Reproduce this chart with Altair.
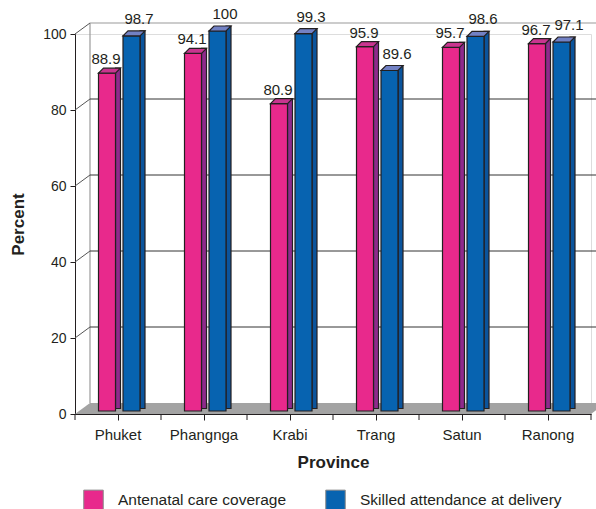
import altair as alt
import pandas as pd

# ---- data -------------------------------------------------------------
provinces = ["Phuket", "Phangnga", "Krabi", "Trang", "Satun", "Ranong"]
antenatal = [88.9, 94.1, 80.9, 95.9, 95.7, 96.7]
skilled = [98.7, 100, 99.3, 89.6, 98.6, 97.1]
series = ["Antenatal care coverage", "Skilled attendance at delivery"]
y_ticks = [0, 20, 40, 60, 80, 100]

df = pd.DataFrame({
    "province": provinces * 2,
    "series": [series[0]] * len(provinces) + [series[1]] * len(provinces),
    "value": antenatal + skilled,
})
grid_df = pd.DataFrame({"tick": y_ticks[1:-1]})
top_df = pd.DataFrame({"tick": [y_ticks[-1]]})
axis_df = pd.DataFrame({"tick": y_ticks[1:]})
prov_df = pd.DataFrame({"province": provinces})
one = pd.DataFrame({"k": [0]})

# ---- styling ----------------------------------------------------------
W, H = 516, 380          # plot area
DX, DY = 15, -11         # depth of the 3-D box
FY = -3                  # bars stand a little behind the front edge
FW, SW, TD = 17, 5, 5    # front width, side width, top depth
INK = "#231f20"
FONT = "Liberation Sans"

styles = {
    series[0]: dict(front="#e8298c", side="#8e2a8c", top="#c9358f",
                    off=-11, label_off=-12, label_dy=-14),
    series[1]: dict(front="#0763b0", side="#0b549c", top="#7281c4",
                    off=13.5, label_off=21, label_dy=-17),
}

x_scale = alt.Scale(domain=provinces, paddingInner=0, paddingOuter=0)
y_scale = alt.Scale(domain=[0, 100], nice=False, zero=True)

x_axis = alt.Axis(title="Province", labelFontSize=15, labelFont=FONT, labelColor=INK,
                  labelAngle=0, labelPadding=7, tickSize=6, tickColor=INK,
                  domainColor=INK, titleFont=FONT, titleFontSize=17, titleFontWeight="bold",
                  titleColor=INK, titleX=W / 2, titleY=48, titleBaseline="middle", grid=False)
y_axis = alt.Axis(title="Percent", values=y_ticks, labelFontSize=14, labelFont=FONT,
                  labelColor=INK, labelPadding=4, tickSize=5, tickColor=INK,
                  domainColor=INK, titleFont=FONT, titleFontSize=17, titleFontWeight="bold",
                  titleColor=INK, titleAngle=270, titleX=-57, titleY=H / 2,
                  titleAlign="center", titleBaseline="middle", grid=False)

X = alt.X("province:N", sort=provinces, scale=x_scale, axis=x_axis)
Y = alt.Y("value:Q", scale=y_scale, axis=y_axis)
YT = alt.Y("tick:Q", scale=y_scale, axis=y_axis)

layers = []

# floor of the box
layers.append(
    alt.Chart(one).mark_point(
        shape=f"M0,0 L{W},0 L{W + DX},{DY} L{DX},{DY} Z", size=4, filled=True,
        fill="#a3a3a3", opacity=1, strokeWidth=0,
    ).encode(x=alt.value(0), y=alt.value(H))
)

# back wall: left edge
layers.append(
    alt.Chart(one).mark_rule(color="#9a9a9a", strokeWidth=1.2).encode(
        x=alt.value(DX), y=alt.value(DY), y2=alt.value(H + DY))
)

# back wall gridlines
layers.append(
    alt.Chart(grid_df).mark_rule(color="#333333", strokeWidth=1, yOffset=DY).encode(
        y=YT, x=alt.value(DX), x2=alt.value(W + 10))
)
layers.append(
    alt.Chart(top_df).mark_rule(color="#9a9a9a", strokeWidth=1.2, yOffset=DY).encode(
        y=YT, x=alt.value(DX), x2=alt.value(W + 10))
)

# side-wall connectors from the front axis to the back wall
layers.append(
    alt.Chart(axis_df).mark_rule(color="#555555", strokeWidth=1, y2Offset=DY).encode(
        y=YT, y2=alt.Y2("tick:Q"), x=alt.value(0), x2=alt.value(DX))
)

# category boundary ticks on the x axis
layers.append(
    alt.Chart(prov_df).mark_rule(color=INK, strokeWidth=1).encode(
        x=alt.X("province:N", sort=provinces, scale=x_scale, axis=x_axis, bandPosition=0),
        y=alt.value(H), y2=alt.value(H + 6))
)
layers.append(
    alt.Chart(one).mark_rule(color=INK, strokeWidth=1).encode(
        x=alt.value(W), y=alt.value(H), y2=alt.value(H + 6))
)

color = alt.Color(
    "series:N",
    scale=alt.Scale(domain=series, range=[styles[s]["front"] for s in series]),
    legend=alt.Legend(
        title=None, orient="none", legendX=8, legendY=455, direction="horizontal",
        symbolType="square", symbolSize=380, symbolStrokeColor="#8a8a8a",
        symbolStrokeWidth=1, symbolOpacity=1, labelFontSize=15.5, labelFont=FONT,
        labelColor=INK, labelOffset=14, labelLimit=400, columnPadding=36, padding=0,
    ),
)

for s in series:
    st = styles[s]
    base = alt.Chart(df).transform_filter(alt.datum.series == s)
    # side face
    layers.append(
        base.mark_bar(width=SW, xOffset=st["off"] + FW / 2 + SW / 2,
                      yOffset=FY - TD, y2Offset=FY - 2.5,
                      fill=st["side"], stroke=INK, strokeWidth=1.2).encode(
            x=X, y=Y, y2=alt.datum(0))
    )
    # front face
    layers.append(
        base.mark_bar(width=FW, xOffset=st["off"], yOffset=FY, y2Offset=FY,
                      stroke=INK, strokeWidth=1.2, opacity=1).encode(
            x=X, y=Y, y2=alt.datum(0), color=color)
    )
    # top face
    h = FW / 2
    layers.append(
        base.mark_point(
            shape=f"M{-h},0 L{h},0 L{h + SW},{-TD} L{-h + SW},{-TD} Z", size=4,
            filled=True, fill=st["top"], stroke=INK, strokeWidth=1.2, opacity=1,
            xOffset=st["off"], yOffset=FY,
        ).encode(x=X, y=Y)
    )
    # value label
    layers.append(
        base.mark_text(fontSize=15, font=FONT, color=INK, baseline="middle",
                       xOffset=st["label_off"], yOffset=FY + st["label_dy"]).encode(
            x=X, y=Y, text=alt.Text("value:Q"))
    )

chart = alt.layer(*layers).properties(
    width=W, height=H,
    padding={"left": 75, "top": 34, "right": 5, "bottom": 95},
    autosize=alt.AutoSizeParams(type="none"),
).configure_view(stroke=None).configure(background="white")

chart.save("out.html", embed_options={"renderer": "svg", "actions": False})
